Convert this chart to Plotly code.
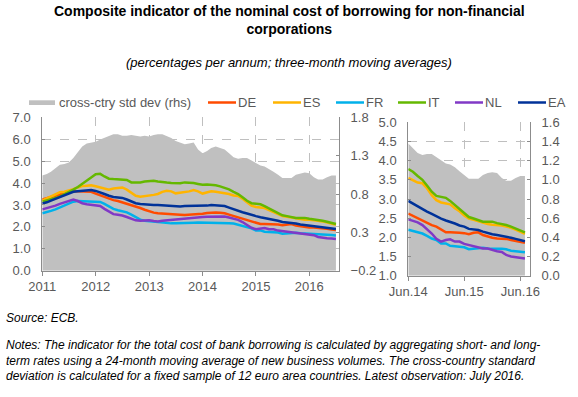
import plotly.graph_objects as go
import pandas as pd

# ---------------- data ----------------
months = pd.date_range("2011-01-01", "2016-07-01", freq="MS")  # Jan 2011 .. Jul 2016
series_names = ["DE", "ES", "FR", "IT", "NL", "EA"]

DE = [3.25, 3.3, 3.36, 3.42, 3.48, 3.54, 3.6, 3.63, 3.62, 3.61,
      3.62, 3.6, 3.52, 3.45, 3.36, 3.28, 3.22, 3.18, 3.12, 3.07,
      3.0, 2.93, 2.86, 2.78, 2.7, 2.65, 2.62, 2.6, 2.58, 2.56,
      2.55, 2.55, 2.54, 2.55, 2.56, 2.58, 2.6, 2.63, 2.66, 2.66, 2.64,
      2.62, 2.56, 2.5, 2.43, 2.37, 2.32, 2.28, 2.2, 2.13, 2.13,
      2.13, 2.12, 2.11, 2.08, 2.12, 2.13, 2.06, 2.02, 1.99, 1.97,
      1.97, 1.96, 1.93, 1.91, 1.88, 1.86]
ES = [3.2, 3.3, 3.42, 3.52, 3.58, 3.6, 3.65, 3.72, 3.8, 3.86,
      3.88, 3.9, 3.85, 3.8, 3.72, 3.7, 3.75, 3.78, 3.8, 3.7,
      3.55, 3.42, 3.38, 3.4, 3.45, 3.46, 3.5, 3.6, 3.65, 3.62,
      3.53, 3.55, 3.58, 3.62, 3.68, 3.62, 3.52, 3.58, 3.62, 3.6, 3.57,
      3.55, 3.5, 3.43, 3.41, 3.28, 3.1, 2.97, 2.91, 2.89, 2.86,
      2.76, 2.68, 2.57, 2.49, 2.46, 2.42, 2.38, 2.35, 2.33, 2.32,
      2.31, 2.28, 2.25, 2.2, 2.14, 2.09]
FR = [2.62, 2.67, 2.73, 2.8, 2.88, 2.96, 3.05, 3.15, 3.18, 3.17,
      3.16, 3.15, 3.17, 3.14, 3.05, 2.92, 2.82, 2.76, 2.72, 2.66,
      2.56, 2.45, 2.33, 2.28, 2.26, 2.23, 2.2, 2.18, 2.16, 2.16,
      2.16, 2.16, 2.16, 2.18, 2.19, 2.2, 2.2, 2.2, 2.19, 2.19, 2.18,
      2.2, 2.17, 2.15, 2.1, 2.04, 1.97, 1.93, 1.84, 1.84, 1.78,
      1.77, 1.76, 1.74, 1.69, 1.71, 1.73, 1.73, 1.71, 1.7, 1.7,
      1.7, 1.69, 1.65, 1.64, 1.63, 1.61]
IT = [3.15, 3.2, 3.25, 3.32, 3.38, 3.48, 3.6, 3.7, 3.82, 3.95,
      4.1, 4.25, 4.4, 4.42, 4.3, 4.2, 4.18, 4.16, 4.15, 4.14,
      4.03, 4.02, 4.03, 4.07, 4.1, 4.1, 4.07, 4.03, 4.02, 4.0,
      3.99, 3.99, 4.03, 4.02, 4.0, 3.96, 3.92, 3.93, 3.92, 3.9, 3.85,
      3.78, 3.71, 3.6, 3.5, 3.35, 3.19, 3.08, 3.06, 3.03, 2.95,
      2.84, 2.75, 2.62, 2.53, 2.49, 2.45, 2.41, 2.41, 2.41, 2.37,
      2.35, 2.32, 2.28, 2.23, 2.18, 2.13]
NL = [2.8, 2.85, 2.9, 2.97, 3.05, 3.12, 3.2, 3.25, 3.18, 3.08,
      3.03, 3.0, 3.0, 2.95, 2.82, 2.7, 2.58, 2.55, 2.52, 2.45,
      2.38, 2.3, 2.28, 2.3, 2.3, 2.27, 2.25, 2.28, 2.3, 2.33,
      2.35, 2.37, 2.4, 2.42, 2.44, 2.44, 2.45, 2.46, 2.47, 2.47, 2.47,
      2.47, 2.43, 2.39, 2.32, 2.22, 2.1, 1.96, 1.89, 1.93, 1.95,
      1.89, 1.89, 1.83, 1.8, 1.78, 1.74, 1.71, 1.71, 1.67, 1.64,
      1.62, 1.54, 1.5, 1.48, 1.47, 1.45]
EA = [3.07, 3.12, 3.2, 3.28, 3.35, 3.42, 3.52, 3.6, 3.63, 3.65,
      3.66, 3.68, 3.64, 3.58, 3.5, 3.42, 3.36, 3.34, 3.32, 3.25,
      3.15, 3.08, 3.04, 3.02, 3.0, 3.0, 3.0, 2.98, 2.97, 2.94,
      2.92, 2.93, 2.95, 2.95, 2.95, 2.95, 2.95, 2.97, 3.0, 2.99, 2.96,
      2.95, 2.88, 2.8, 2.73, 2.67, 2.61, 2.54, 2.49, 2.44, 2.41,
      2.36, 2.31, 2.28, 2.22, 2.2, 2.19, 2.15, 2.11, 2.08, 2.06,
      2.04, 2.02, 1.99, 1.96, 1.93, 1.9]
STD_DEV = [1.04, 1.06, 1.09, 1.14, 1.18, 1.19, 1.21, 1.27, 1.35, 1.42,
           1.46, 1.47, 1.48, 1.51, 1.53, 1.56, 1.58, 1.58, 1.56, 1.56,
           1.57, 1.56, 1.55, 1.56, 1.55, 1.57, 1.58, 1.58, 1.56, 1.53,
           1.49, 1.47, 1.45, 1.46, 1.47, 1.38, 1.33, 1.36, 1.40, 1.42, 1.40,
           1.38, 1.33, 1.28, 1.26, 1.27, 1.27, 1.24, 1.21, 1.17, 1.16,
           1.13, 1.09, 1.05, 1.01, 1.01, 1.01, 1.05, 1.07, 1.08, 1.07,
           1.02, 0.99, 0.99, 1.02, 1.04, 1.04]
std_name = "cross-ctry std dev (rhs)"

zoom_start = "2014-06-01"   # right-hand panel starts June 2014

# axis ranges / ticks
LEFT_LHS = (0.0, 7.0, 1.0)
LEFT_RHS = (-0.2, 1.8, 0.5)
RIGHT_LHS = (1.0, 5.0, 0.5)
RIGHT_RHS = (0.0, 1.6, 0.2)

# ---------------- styling ----------------
W, H = 578, 397
FONT = "Liberation Sans, Arial, sans-serif"
TXT = "#595959"
AXC = "#8C8C8C"
GRID = "#BFBFBF"
GREY_AREA = "#C0C0C0"
colors = {"DE": "#FF4B00", "ES": "#FFB400", "FR": "#00B1EA",
          "IT": "#65B800", "NL": "#8139C6", "EA": "#003299"}
values = {"DE": DE, "ES": ES, "FR": FR, "IT": IT, "NL": NL, "EA": EA}

df = pd.DataFrame({"date": months, "std": STD_DEV, **values})
dz = df[df["date"] >= pd.Timestamp(zoom_start)]


def px(x):
    return x / W


def py(y):
    return 1 - y / H


fig = go.Figure()

# ---- left panel: area on rhs (base axis y), lines on lhs (overlay y2)
fig.add_trace(go.Scatter(x=df["date"], y=[LEFT_RHS[0]] * len(df), mode="lines",
                         line=dict(width=0, color=GREY_AREA), xaxis="x", yaxis="y",
                         showlegend=False, hoverinfo="skip"))
fig.add_trace(go.Scatter(x=df["date"], y=df["std"], mode="lines", fill="tonexty",
                         fillcolor=GREY_AREA, line=dict(width=0, color=GREY_AREA),
                         name=std_name, xaxis="x", yaxis="y", showlegend=False))
for n in series_names:
    fig.add_trace(go.Scatter(x=df["date"], y=df[n], mode="lines", name=n,
                             line=dict(color=colors[n], width=2.5),
                             xaxis="x", yaxis="y2", showlegend=False))

# ---- right panel: area on rhs (base axis y3), lines on lhs (overlay y4)
fig.add_trace(go.Scatter(x=dz["date"], y=dz["std"], mode="lines", fill="tozeroy",
                         fillcolor=GREY_AREA, line=dict(width=0, color=GREY_AREA),
                         name=std_name, xaxis="x2", yaxis="y3", showlegend=False))
for n in series_names:
    fig.add_trace(go.Scatter(x=dz["date"], y=dz[n], mode="lines", name=n,
                             line=dict(color=colors[n], width=2.5),
                             xaxis="x2", yaxis="y4", showlegend=False))

tickfont = dict(family=FONT, size=13, color=TXT)
common_y = dict(showline=True, linecolor=AXC, linewidth=1, ticks="inside", ticklen=3,
                tickcolor=AXC, tickfont=tickfont, tickformat=".1f", zeroline=False,
                fixedrange=True, automargin=False)
grid = dict(showgrid=True, gridcolor=GRID, griddash="dash", gridwidth=1)
common_x = dict(type="date", ticks="outside", ticklen=4, tickcolor=AXC,
                showline=True, linecolor=AXC, tickfont=tickfont, automargin=False,
                zeroline=False, fixedrange=True)

L_DOM_X = [px(42.3), px(339)]
L_DOM_Y = [py(270.7), py(117.3)]
R_DOM_X = [px(408.3), px(530)]
R_DOM_Y = [py(275.7), py(122.3)]

fig.update_layout(
    width=W, height=H, margin=dict(l=0, r=0, t=0, b=0, autoexpand=False),
    paper_bgcolor="white", plot_bgcolor="rgba(0,0,0,0)",
    font=dict(family=FONT, color=TXT),
    xaxis=dict(domain=L_DOM_X, anchor="y",
               range=["2011-01-01", "2016-07-22"], tick0="2011-01-01", dtick="M12",
               tickformat="%Y", **common_x, **grid),
    yaxis=dict(domain=L_DOM_Y, anchor="x", side="right", range=LEFT_RHS[:2],
               tick0=LEFT_RHS[0], dtick=LEFT_RHS[2], showgrid=False,
               ticklabelstandoff=8, **common_y),
    yaxis2=dict(domain=L_DOM_Y, anchor="x", overlaying="y", side="left",
                range=LEFT_LHS[:2], tick0=LEFT_LHS[0], dtick=LEFT_LHS[2],
                ticklabelstandoff=8, **common_y, **grid),
    xaxis2=dict(domain=R_DOM_X, anchor="y3",
                range=["2014-06-01", "2016-08-03"], tick0="2014-06-01", dtick="M12",
                tickformat="%b.%y", **common_x, **grid),
    yaxis3=dict(domain=R_DOM_Y, anchor="x2", side="right", range=RIGHT_RHS[:2],
                tick0=RIGHT_RHS[0], dtick=RIGHT_RHS[2], showgrid=False,
                ticklabelstandoff=8, **common_y),
    yaxis4=dict(domain=R_DOM_Y, anchor="x2", overlaying="y3", side="left",
                range=RIGHT_LHS[:2], tick0=RIGHT_LHS[0], dtick=RIGHT_LHS[2],
                ticklabelstandoff=8, **common_y, **grid),
)

annotations = []
shapes = []

# title & subtitle
annotations.append(dict(text="<b>Composite indicator of the nominal cost of borrowing for non-financial<br>corporations</b>",
                        x=0.5, y=py(1), xref="paper", yref="paper", xanchor="center",
                        yanchor="top", showarrow=False, align="center",
                        font=dict(family=FONT, size=14, color="#000000")))
annotations.append(dict(text="<i>(percentages per annum; three-month moving averages)</i>",
                        x=0.5, y=py(62), xref="paper", yref="paper", xanchor="center",
                        yanchor="middle", showarrow=False,
                        font=dict(family=FONT, size=13, color="#000000")))

# manual legend
LEG_Y = 102.5
shapes.append(dict(type="rect", xref="paper", yref="paper", x0=px(29), x1=px(55),
                   y0=py(105), y1=py(100.3), fillcolor=GREY_AREA, line=dict(width=0)))
annotations.append(dict(text=std_name, x=px(57), y=py(LEG_Y), xref="paper", yref="paper",
                        xanchor="left", yanchor="middle", showarrow=False,
                        font=dict(family=FONT, size=13, color=TXT)))
leg_pos = {"DE": 208, "ES": 273, "FR": 336, "IT": 398, "NL": 455, "EA": 518}
for n in series_names:
    x0 = leg_pos[n]
    shapes.append(dict(type="line", xref="paper", yref="paper", x0=px(x0), x1=px(x0 + 28),
                       y0=py(LEG_Y), y1=py(LEG_Y), line=dict(color=colors[n], width=2.5)))
    annotations.append(dict(text=n, x=px(x0 + 28), y=py(LEG_Y), xref="paper", yref="paper",
                            xanchor="left", yanchor="middle", showarrow=False,
                            font=dict(family=FONT, size=13, color=TXT)))

# source and notes
annotations.append(dict(text="<i>Source: ECB.</i>", x=px(4), y=py(318), xref="paper",
                        yref="paper", xanchor="left", yanchor="middle", showarrow=False,
                        font=dict(family=FONT, size=12, color="#000000")))
notes = ("<i>Notes: The indicator for the total cost of bank borrowing is calculated by aggregating short- and long-<br>"
         "term rates using a 24-month moving average of new business volumes. The cross-country standard<br>"
         "deviation is calculated for a fixed sample of 12 euro area countries. Latest observation: July 2016.</i>")
annotations.append(dict(text=notes, x=px(4), y=py(336), xref="paper", yref="paper",
                        xanchor="left", yanchor="top", showarrow=False, align="left",
                        font=dict(family=FONT, size=12, color="#000000")))

fig.update_layout(annotations=annotations, shapes=shapes)

fig.write_html("out.html", config={"displayModeBar": False},
               post_script="document.body.style.margin='0px';")
